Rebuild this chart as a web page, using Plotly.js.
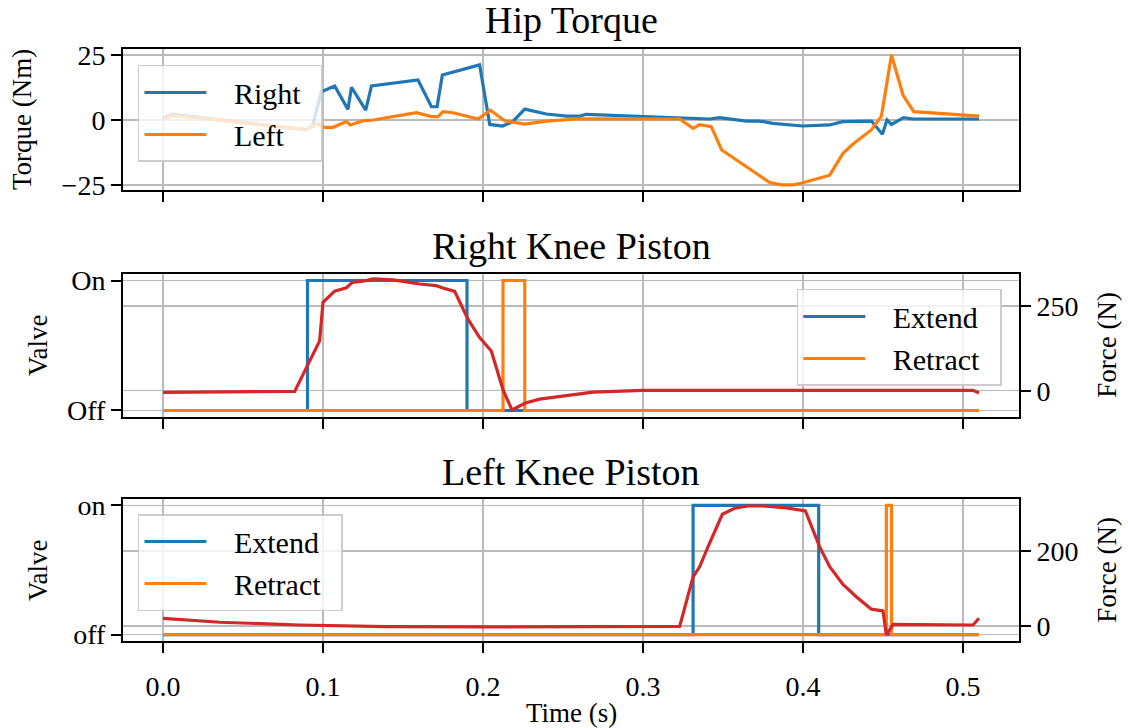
<!DOCTYPE html>
<html>
<head>
<meta charset="utf-8">
<script src="https://cdn.plot.ly/plotly-3.0.1.min.js"></script>
<style>html,body{margin:0;padding:0;background:#fff;}#chart{width:1128px;height:728px;}</style>
</head>
<body>
<div id="chart"></div>
<script>
// ---- Hip torque (Nm) ----
const hipRightT = [0.000,0.0053,0.0896,0.0936,0.0990,0.1073,0.1156,0.1178,0.1267,0.1303,0.1594,0.1678,0.1713,0.1746,0.1979,0.2042,0.2123,0.2186,0.2261,0.2396,0.2521,0.2604,0.2646,0.3229,0.3417,0.3479,0.3646,0.3729,0.3811,0.3998,0.4167,0.4248,0.4428,0.4496,0.4525,0.4553,0.4629,0.4688,0.5100];
const hipRightV = [0.5,2.3,-3.8,-1.9,10.9,13.1,4.1,12.6,3.8,13.1,15.4,5.1,5.1,17.3,21.2,-1.7,-2.3,-0.6,4.2,2.3,1.5,1.5,2.2,0.9,0.4,0.9,-0.4,-0.4,-1.3,-2.3,-1.9,-0.6,-0.4,-5.5,0.0,-1.7,0.9,0.4,0.4];
const hipLeftT = [0.000,0.0053,0.0896,0.0967,0.1000,0.1063,0.1146,0.1171,0.1250,0.1313,0.1584,0.1678,0.1719,0.1750,0.1813,0.1969,0.2046,0.2136,0.2261,0.2396,0.2604,0.3229,0.3313,0.3354,0.3427,0.3492,0.3792,0.3865,0.3938,0.4000,0.4167,0.4250,0.4313,0.4427,0.4490,0.4511,0.4553,0.4625,0.4692,0.5100];
const hipLeftV = [0.0,1.9,-3.6,-1.3,-2.8,-2.8,-0.6,-1.9,-0.3,0.0,2.8,1.3,1.3,3.2,2.8,0.4,3.8,-0.3,-1.6,-0.4,0.5,0.4,-3.2,-1.8,-2.6,-11.5,-24.0,-24.9,-24.9,-24.1,-21.2,-12.8,-9.2,-3.8,1.5,9.0,25.0,9.6,3.2,1.5];

// ---- Right knee piston ----
const rkValveT = [0.000,0.0903,0.1900,0.5100];
const rkExtend = [0,1,0,0];
const rkRetractT = [0.000,0.2125,0.2261,0.5100];
const rkRetract = [0,1,0,0];
const rkForceT = [0.000,0.0823,0.0979,0.1000,0.1073,0.1146,0.1184,0.1250,0.1313,0.1438,0.1604,0.1708,0.1750,0.1823,0.1906,0.1979,0.2052,0.2125,0.2181,0.2261,0.2354,0.2479,0.2688,0.3000,0.4000,0.5063,0.5100];
const rkForce = [-5,-2,147,261,294,304,320,323,330,327,315,310,303,293,211,157,117,3,-57,-37,-25,-17,-4,1,1,1,-7];

// ---- Left knee piston ----
const lkValveT = [0.000,0.3313,0.4098,0.5100];
const lkExtend = [0,1,0,0];
const lkRetractT = [0.000,0.4521,0.4553,0.5100];
const lkRetract = [0,1,0,0];
const lkForceT = [0.000,0.0356,0.0854,0.1396,0.2021,0.2542,0.3229,0.3313,0.3354,0.3406,0.3496,0.3573,0.3656,0.3750,0.3896,0.4015,0.4104,0.4167,0.4250,0.4333,0.4427,0.4500,0.4521,0.4563,0.5063,0.5100];
const lkForce = [20.5,10,2.7,-1.9,-2.5,-2,-1,131,158,211,298,314,320,320,315,307,211,158,111,78,45,40,-24,4.5,2.7,20.5];

const xTicks = [0.0,0.1,0.2,0.3,0.4,0.5];
const xTickText = ['0.0','0.1','0.2','0.3','0.4','0.5'];

const BLUE = '#1f77b4', ORANGE = '#ff7f0e', RED = '#d62728';
const FONT = 'Liberation Serif, Times New Roman, serif';
const LW = 3.2;
const PAD = '\u00a0\u00a0\u00a0';
const END = '\u00a0\u00a0';

const traces = [
  {x: hipRightT, y: hipRightV, xaxis:'x', yaxis:'y', name:PAD+'Right'+END, mode:'lines', line:{color:BLUE,width:LW}, legend:'legend'},
  {x: hipLeftT, y: hipLeftV, xaxis:'x', yaxis:'y', name:PAD+'Left'+END, mode:'lines', line:{color:ORANGE,width:LW}, legend:'legend'},
  {x: rkValveT, y: rkExtend, xaxis:'x2', yaxis:'y2', name:PAD+'Extend'+END, mode:'lines', line:{color:BLUE,width:LW,shape:'hv'}, legend:'legend2'},
  {x: rkRetractT, y: rkRetract, xaxis:'x2', yaxis:'y2', name:PAD+'Retract'+END, mode:'lines', line:{color:ORANGE,width:LW,shape:'hv'}, legend:'legend2'},
  {x: rkForceT, y: rkForce, xaxis:'x2', yaxis:'y4', name:'Force', mode:'lines', line:{color:RED,width:LW}, showlegend:false},
  {x: lkValveT, y: lkExtend, xaxis:'x3', yaxis:'y3', name:PAD+'Extend'+END, mode:'lines', line:{color:BLUE,width:LW,shape:'hv'}, legend:'legend3'},
  {x: lkRetractT, y: lkRetract, xaxis:'x3', yaxis:'y3', name:PAD+'Retract'+END, mode:'lines', line:{color:ORANGE,width:LW,shape:'hv'}, legend:'legend3'},
  {x: lkForceT, y: lkForce, xaxis:'x3', yaxis:'y5', name:'Force', mode:'lines', line:{color:RED,width:LW}, showlegend:false}
];

const tickFont = {family: FONT, size: 28, color: '#000'};
const common = {
  showline: true, mirror: true, linecolor: '#000', linewidth: 2,
  ticks: 'outside', ticklen: 10, tickwidth: 2, tickcolor: '#000',
  showgrid: true, gridcolor: '#bababa', gridwidth: 1.5,
  zeroline: false, tickfont: tickFont, fixedrange: true
};
const xr = [-0.025, 0.535];
function xa(anchor, labels){
  return Object.assign({}, common, {
    range: xr, anchor: anchor, domain: [0,1],
    tickmode:'array', tickvals: xTicks, ticktext: xTickText, showticklabels: labels,
    ticklabelstandoff: labels ? 9 : 0
  });
}
const dTop = [0.7618, 1.0], dMid = [0.3784, 0.6199], dBot = [0.0, 0.2399];
const legendBase = {
  bgcolor: 'rgba(255,255,255,0.8)', bordercolor: 'rgba(200,200,200,0.9)', borderwidth: 1.5,
  font: {family: FONT, size: 30, color: '#000'}, xanchor:'left', yanchor:'top',
  itemwidth: 62, tracegroupgap: 0
};
function ann(text, x, y, size, angle){
  return {text: text, x: x, y: y, xref:'paper', yref:'paper', showarrow:false,
    xanchor:'center', yanchor:'middle', textangle: angle||0,
    font:{family: FONT, size: size, color:'#000'}};
}

const layout = {
  width: 1128, height: 728,
  margin: {l: 123, r: 109, t: 49, b: 87},
  paper_bgcolor: '#fff', plot_bgcolor: '#fff',
  font: {family: FONT, color: '#000'},
  xaxis: xa('y', false),
  xaxis2: xa('y2', false),
  xaxis3: xa('y3', true),
  yaxis: Object.assign({}, common, {domain: dTop, range: [-26.9, 27.3], anchor:'x',
    tickmode:'array', tickvals:[-25,0,25], ticktext:['\u221225','0','25']}),
  yaxis2: Object.assign({}, common, {domain: dMid, range: [-0.05, 1.05], anchor:'x2',
    tickmode:'array', tickvals:[0,1], ticktext:['Off','On']}),
  yaxis3: Object.assign({}, common, {domain: dBot, range: [-0.05, 1.05], anchor:'x3',
    tickmode:'array', tickvals:[0,1], ticktext:['off','on']}),
  yaxis4: Object.assign({}, common, {overlaying:'y2', side:'right', anchor:'x2', range:[-77.6, 344.4],
    tickmode:'array', tickvals:[0,250], ticktext:['0','250'], mirror:false}),
  yaxis5: Object.assign({}, common, {overlaying:'y3', side:'right', anchor:'x3', range:[-40, 338.7],
    tickmode:'array', tickvals:[0,200], ticktext:['0','200'], mirror:false}),
  legend: Object.assign({}, legendBase, {x: 0.0167, y: 0.973}),
  legend2: Object.assign({}, legendBase, {x: 0.752, y: 0.5946}),
  legend3: Object.assign({}, legendBase, {x: 0.0167, y: 0.2145}),
  annotations: [
    ann('Hip Torque', 0.5, 1.049, 38),
    ann('Right Knee Piston', 0.5, 0.6672, 38),
    ann('Left Knee Piston', 0.5, 0.2855, 38),
    ann('Torque (Nm)', -0.1127, 0.880, 27, -90),
    ann('Valve', -0.0949, 0.5, 27, -90),
    ann('Valve', -0.0949, 0.12, 27, -90),
    ann('Force (N)', 1.098, 0.5, 27, -90),
    ann('Force (N)', 1.098, 0.12, 27, -90),
    ann('Time (s)', 0.5, -0.122, 27)
  ],
  showlegend: true
};

Plotly.newPlot('chart', traces, layout, {displayModeBar: false, staticPlot: true});
</script>
</body>
</html>
